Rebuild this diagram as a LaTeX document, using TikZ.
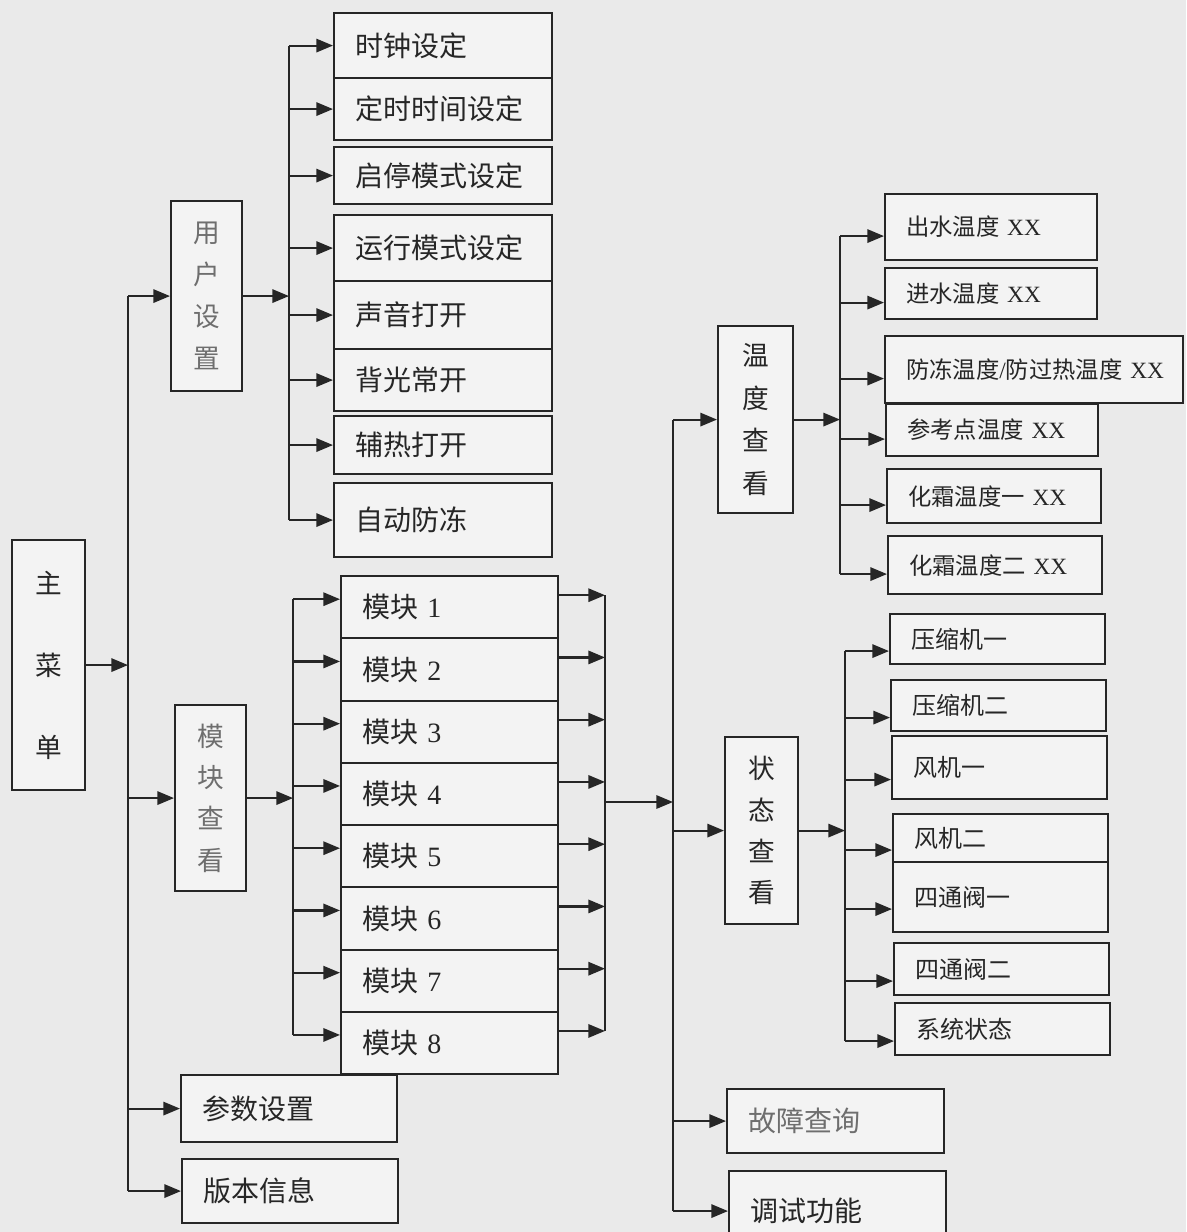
\documentclass[tikz,border=0pt]{standalone}
\usepackage{fontspec}
\setmainfont{Noto Sans CJK SC}
\newfontfamily\lat{Liberation Serif}
\usetikzlibrary{arrows.meta,calc}

\definecolor{paper}{HTML}{EAEAEA}
\definecolor{boxfill}{HTML}{F3F3F3}
\definecolor{ink}{HTML}{262626}
\definecolor{dimink}{HTML}{6E6E6E}

\tikzset{
  menu/.style n args={3}{draw=ink, line width=1.6pt, fill=boxfill, anchor=north west,
    inner xsep=15.75pt, inner ysep=0pt, align=left, text=ink,
    text width={(#1-42)*0.75pt}, minimum height={#2*0.75pt},
    font=\fontsize{#3}{#3}\selectfont},
  vmenu/.style n args={3}{draw=ink, line width=1.6pt, fill=boxfill, anchor=north west,
    inner sep=0pt, align=center, text=ink,
    minimum width={#1*0.75pt}, minimum height={#2*0.75pt},
    font=\fontsize{20pt}{#3}\selectfont},
  arr/.style={draw=ink, line width=1.6pt, -{Triangle[length=12.5pt,width=10pt]}},
  bus/.style={draw=ink, line width=1.6pt},
}

\begin{document}
\begin{tikzpicture}[x=0.75pt,y=0.75pt,yscale=-1,xscale=1]
\fill[paper] (0,0) rectangle (1186,1232);
\useasboundingbox (0,0) rectangle (1186,1232);

%Shape: main menu and its branches
\node[vmenu={73}{250}{61.5pt}] (mm) at (11,539) {主\\菜\\单};
\node[vmenu={71}{190}{31.5pt}, text=dimink] (usr) at (170,200) {用\\户\\设\\置};
\node[vmenu={71}{186}{31pt}, text=dimink] (mv) at (174,704) {模\\块\\查\\看};
\node[menu={216}{67}{21pt}] (ps) at (180,1074) {参数设置};
\node[menu={216}{64}{21pt}] (ver) at (181,1158) {版本信息};

%Shape: user settings
\node[menu={218}{65}{21pt}] (clk) at (333,12) {时钟设定};
\node[menu={218}{62}{21pt}] (tmr) at (333,77) {定时时间设定};
\node[menu={218}{57}{21pt}] (ssm) at (333,146) {启停模式设定};
\node[menu={218}{66}{21pt}] (rmd) at (333,214) {运行模式设定};
\node[menu={218}{68}{21pt}] (snd) at (333,280) {声音打开};
\node[menu={218}{62}{21pt}] (blt) at (333,348) {背光常开};
\node[menu={218}{58}{21pt}] (aux) at (333,415) {辅热打开};
\node[menu={218}{74}{21pt}] (afz) at (333,482) {自动防冻};

%Shape: modules
\foreach \i in {1,...,8}
  \node[menu={217}{62.25}{21pt}] (m\i) at (340,{575+62.25*(\i-1)}) {模块 {\lat\i}};

%Shape: temperature view
\node[vmenu={75}{187}{32pt}] (tv) at (717,325) {温\\度\\查\\看};
\node[menu={212}{66}{17.5pt}] (t1) at (884,193) {出水温度 {\lat XX}};
\node[menu={212}{51}{17.5pt}] (t2) at (884,267) {进水温度 {\lat XX}};
\node[menu={298}{67}{17.5pt}] (t3) at (884,335) {\mbox{防冻温度{\lat /}防过热温度 {\lat XX}}};
\node[menu={212}{52}{17.5pt}] (t4) at (885,403) {参考点温度 {\lat XX}};
\node[menu={214}{54}{17.5pt}] (t5) at (886,468) {化霜温度一 {\lat XX}};
\node[menu={214}{58}{17.5pt}] (t6) at (887,535) {化霜温度二 {\lat XX}};

%Shape: status view
\node[vmenu={73}{187}{31pt}] (sv) at (724,736) {状\\态\\查\\看};
\node[menu={215}{50}{18pt}] (s1) at (889,613) {压缩机一};
\node[menu={215}{51}{18pt}] (s2) at (890,679) {压缩机二};
\node[menu={215}{63}{18pt}] (s3) at (891,735) {风机一};
\node[menu={215}{48}{18pt}] (s4) at (892,813) {风机二};
\node[menu={215}{70}{18pt}] (s5) at (892,861) {四通阀一};
\node[menu={215}{52}{18pt}] (s6) at (893,942) {四通阀二};
\node[menu={215}{52}{18pt}] (s7) at (894,1002) {系统状态};

%Shape: fault and debug
\node[menu={217}{64}{21pt}, text=dimink] (fq) at (726,1088) {故障查询};
\node[menu={217}{80}{21pt}] (ts) at (728,1170) {调试功能};

%Straight Lines: main bus
\coordinate (mbus) at (128,663);
\draw[arr] (mm.east) -- (mm.east -| mbus);
\draw[bus] (mbus |- usr.west) -- (mbus |- ver.west);
\foreach \b in {usr,mv,ps,ver}
  \draw[arr] (mbus |- \b.west) -- (\b.west);

%Straight Lines: user settings bus
\coordinate (ubus) at (289,284);
\draw[arr] (usr.east) -- (usr.east -| ubus);
\draw[bus] (ubus |- clk.west) -- (ubus |- afz.west);
\foreach \b in {clk,tmr,ssm,rmd,snd,blt,aux,afz}
  \draw[arr] (ubus |- \b.west) -- (\b.west);

%Straight Lines: modules in and out
\coordinate (lbus) at (293,806);
\coordinate (rbus) at (605,802);
\draw[arr] (mv.east) -- (mv.east -| lbus);
\draw[bus] ($(lbus |- m1.west)+(0,-8)$) -- ($(lbus |- m8.west)+(0,-8)$);
\draw[bus] ($(rbus |- m1.east)+(0,-12)$) -- ($(rbus |- m8.east)+(0,-12)$);
\foreach \i in {1,...,8} {
  \draw[arr] ($(lbus |- m\i.west)+(0,-8)$) -- ($(m\i.west)+(0,-8)$);
  \draw[arr] ($(m\i.east)+(0,-12)$) -- ($(rbus |- m\i.east)+(0,-12)$);
}

%Straight Lines: view bus
\coordinate (cbus) at (673,802);
\draw[arr] (rbus) -- (cbus);
\draw[bus] (cbus |- tv.west) -- (cbus |- ts.west);
\foreach \b in {tv,sv,fq,ts}
  \draw[arr] (cbus |- \b.west) -- (\b.west);

%Straight Lines: temperature bus
\coordinate (tbus) at (840,407);
\draw[arr] (tv.east) -- (tv.east -| tbus);
\draw[bus] ($(tbus |- t1.west)+(0,9)$) -- ($(tbus |- t6.west)+(0,9)$);
\foreach \b in {t1,t2,t3,t4,t5,t6}
  \draw[arr] ($(tbus |- \b.west)+(0,9)$) -- ($(\b.west)+(0,9)$);

%Straight Lines: status bus
\coordinate (sbus) at (845,817);
\draw[arr] (sv.east) -- (sv.east -| sbus);
\draw[bus] ($(sbus |- s1.west)+(0,12)$) -- ($(sbus |- s7.west)+(0,12)$);
\foreach \b in {s1,s2,s3,s4,s5,s6,s7}
  \draw[arr] ($(sbus |- \b.west)+(0,12)$) -- ($(\b.west)+(0,12)$);

\end{tikzpicture}
\end{document}
